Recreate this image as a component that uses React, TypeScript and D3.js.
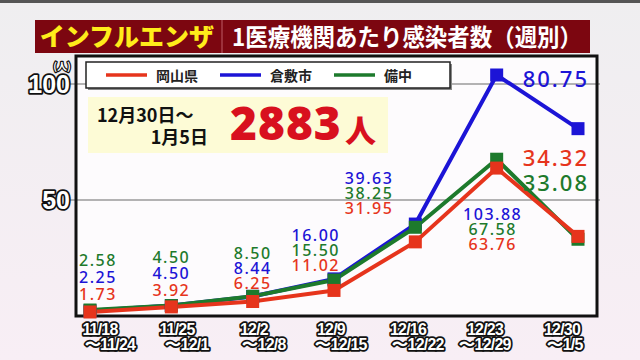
import React from "react";
import * as d3 from "d3";

const weeks = ["11/18", "11/25", "12/2", "12/9", "12/16", "12/23", "12/30"];
const weekEnds = ["〜11/24", "〜12/1", "〜12/8", "〜12/15", "〜12/22", "〜12/29", "〜1/5"];
const okayama = [1.73, 3.92, 6.25, 11.02, 31.95, 63.76, 34.32];
const kurashiki = [2.25, 4.5, 8.44, 16.0, 39.63, 103.88, 80.75];
const bicchu = [2.58, 4.5, 8.5, 15.5, 38.25, 67.58, 33.08];
const seriesNames = ["岡山県", "倉敷市", "備中"];
const yTicks = [50, 100];
// value (in chart units) at which each week's label stack begins
const labelTopAt = [24, 25.6, 27, 35, 59.5, 44];

const W = 640, H = 360;
const L = 76, R = 597, T = 56, B = 316;
const RED = "#e6341c", BLUE = "#1c14d6", GREEN = "#1d7a2c";
const JP = "'Noto Sans CJK JP', 'Noto Sans', sans-serif";

export default function App() {
  const x = d3.scalePoint<string>().domain(weeks).range([90, 578]);
  const xl = d3.scalePoint<string>().domain(weeks).range([100, 562]);
  const y = d3.scaleLinear().domain([0, 100]).range([B, 84]);
  const line = d3.line<number>().x((_, i) => x(weeks[i])!).y((d) => y(d));

  const series = [
    { name: seriesNames[1], data: kurashiki, color: BLUE },
    { name: seriesNames[2], data: bicchu, color: GREEN },
    { name: seriesNames[0], data: okayama, color: RED },
  ];

  const stackOrder = (i: number) =>
    i < 3
      ? [
          { v: bicchu[i], c: GREEN },
          { v: kurashiki[i], c: BLUE },
          { v: okayama[i], c: RED },
        ]
      : [
          { v: kurashiki[i], c: BLUE },
          { v: bicchu[i], c: GREEN },
          { v: okayama[i], c: RED },
        ];
  const labelAnchor = ["middle", "middle", "middle", "end", "end", "middle"];
  const labelDx = [8, 0, 0, 6, -22, -4];
  const spacing = [17, 16.5, 15, 15, 15, 15];

  const outline = {
    fill: "#fff",
    stroke: "#111",
    strokeWidth: 3,
    paintOrder: "stroke" as const,
    strokeLinejoin: "round" as const,
  };

  return (
    <svg width={W} height={H} style={{ position: "absolute", left: 0, top: 0 }}>
      <defs>
        <linearGradient id="bg" x1="0" y1="0" x2="0" y2="1">
          <stop offset="0" stopColor="#efeef0" />
          <stop offset="1" stopColor="#f8eef5" />
        </linearGradient>
      </defs>
      <rect width={W} height={H} fill="url(#bg)" />
      <rect x={0} y={0} width={W} height={3} fill="#555" />

      {/* title bar */}
      <rect x={35} y={20} width={555} height={33} fill="#7c0610" />
      <line x1={222} x2={222} y1={20} y2={53} stroke="#a8404a" strokeWidth={1.5} />
      <text x={127} y={46} textAnchor="middle" fontFamily={JP} fontWeight={900} fontSize={25} fill="#ffec1a">
        インフルエンザ
      </text>
      <text x={232} y={46} textLength={350} lengthAdjust="spacingAndGlyphs" fontFamily={JP} fontWeight={700} fontSize={24} fill="#fff">
        1医療機関あたり感染者数（週別）
      </text>

      {/* plot frame */}
      <rect x={L} y={T} width={R - L} height={B - T} fill="#fdfbfd" />
      {yTicks.map((t) => (
        <line key={t} x1={70} x2={R + 3} y1={y(t)} y2={y(t)} stroke="#9a9a9a" strokeWidth={1.5} />
      ))}
      <rect x={L} y={T} width={R - L} height={B - T} fill="none" stroke="#111" strokeWidth={3} />

      {/* y tick labels */}
      {yTicks.map((t) => (
        <text key={t} x={70} y={y(t) + 9} textAnchor="end" fontFamily="'Liberation Sans', Arial, sans-serif" fontWeight={700} fontSize={25} {...outline} strokeWidth={3.5}>
          {t}
        </text>
      ))}
      <text x={62} y={70} textAnchor="middle" fontFamily={JP} fontWeight={700} fontSize={10} {...outline} strokeWidth={2.5}>
        (人)
      </text>

      {/* legend */}
      <rect x={88} y={64} width={364} height={26} fill="#888" />
      <rect x={86} y={62} width={364} height={26} fill="#fff" stroke="#222" strokeWidth={1.5} />
      {[
        { n: seriesNames[0], c: RED, x0: 106 },
        { n: seriesNames[1], c: BLUE, x0: 220 },
        { n: seriesNames[2], c: GREEN, x0: 334 },
      ].map((d) => (
        <g key={d.n}>
          <line x1={d.x0} x2={d.x0 + 41} y1={75} y2={75} stroke={d.c} strokeWidth={3.5} />
          <text x={d.x0 + 50} y={80.5} fontFamily={JP} fontWeight={700} fontSize={14} fill="#222">
            {d.n}
          </text>
        </g>
      ))}

      {/* info box */}
      <rect x={88} y={97} width={300} height={56} fill="#fdfbd6" />
      <text x={97} y={122} fontFamily={JP} fontWeight={700} fontSize={18} fill="#111">
        12月30日〜
      </text>
      <text x={208} y={144} textAnchor="end" fontFamily={JP} fontWeight={700} fontSize={18} fill="#111">
        1月5日
      </text>
      <text x={230} y={140} fontFamily="'Noto Sans', sans-serif" fontWeight={900} fontSize={46} fill="#d8101e" letterSpacing={1}>
        2883
      </text>
      <text x={345} y={142} fontFamily={JP} fontWeight={900} fontSize={31} fill="#d8101e">
        人
      </text>

      {/* lines & markers */}
      {series.map((s) => (
        <path key={s.name} d={line(s.data)!} fill="none" stroke={s.color} strokeWidth={4} strokeLinejoin="round" />
      ))}
      {series.map((s) => (
        <g key={s.name + "m"}>
          {s.data.map((v, i) => (
            <rect key={i} x={x(weeks[i])! - 6.5} y={y(v) - 6.5} width={13} height={13} fill={s.color} />
          ))}
        </g>
      ))}

      {/* value labels */}
      {labelTopAt.map((lv, i) => (
        <g key={"lab" + i}>
          {stackOrder(i).map((d, k) => (
            <text
              key={k}
              x={x(weeks[i])! + labelDx[i]}
              y={y(lv) + 6 + k * spacing[i]}
              textAnchor={labelAnchor[i]}
              fontFamily="'Noto Sans', sans-serif"
              fontWeight={500}
              fontSize={16}
              letterSpacing={1.5}
              fill={d.c}
            >
              {d.v.toFixed(2)}
            </text>
          ))}
        </g>
      ))}
      {/* last-week labels (large) */}
      {[
        { v: kurashiki[6], c: BLUE, at: 102 },
        { v: okayama[6], c: RED, at: 68 },
        { v: bicchu[6], c: GREEN, at: 57.5 },
      ].map((d, k) => (
        <text
          key={"big" + k}
          x={x(weeks[6])! + 11}
          y={y(d.at) + 8}
          textAnchor="end"
          fontFamily="'Noto Sans', sans-serif"
          fontWeight={500}
          fontSize={22}
          letterSpacing={2}
          fill={d.c}
        >
          {d.v.toFixed(2)}
        </text>
      ))}

      {/* x axis labels */}
      {weeks.map((w, i) => (
        <g key={w}>
          <text x={xl(w)!} y={335} textAnchor="middle" fontFamily="'Liberation Sans', Arial, sans-serif" fontWeight={700} fontSize={16} letterSpacing={-0.8} {...outline} strokeWidth={3.5}>
            {w}
          </text>
          <text x={xl(w)! + (i === 5 ? 0 : i === 6 ? 3 : 10)} y={350} textAnchor="middle" fontFamily="'Liberation Sans', Arial, sans-serif" fontWeight={700} fontSize={16} letterSpacing={-0.8} {...outline} strokeWidth={3.5}>
            {weekEnds[i]}
          </text>
        </g>
      ))}
    </svg>
  );
}
